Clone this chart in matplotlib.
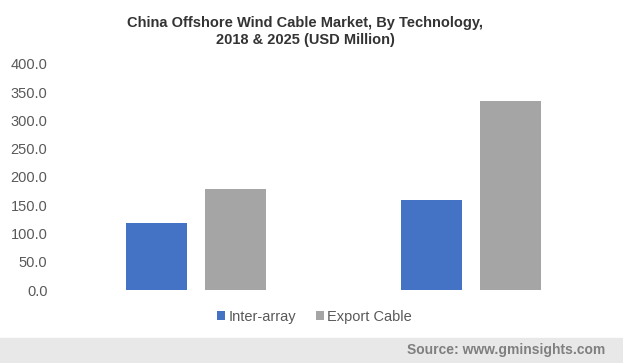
import matplotlib.pyplot as plt
import numpy as np

plt.rcParams['font.family'] = ['Liberation Sans', 'DejaVu Sans']

years = ['2018', '2025']
inter_array = [119, 159]
export_cable = [179, 335]
y_ticks = [0, 50, 100, 150, 200, 250, 300, 350, 400]

fig = plt.figure(figsize=(6.23, 3.63), dpi=100)
ax = fig.add_axes([0.094, 0.201, 0.883, 0.623])

x = np.arange(len(years))
w = 0.222
ax.bar(x - 0.143, inter_array, w, color='#4472c4', label='Inter-array')
ax.bar(x + 0.143, export_cable, w, color='#a5a5a5', label='Export Cable')

ax.set_xlim(-0.5, 1.5)
ax.set_ylim(0, 400)
ax.set_yticks(y_ticks)
ax.set_yticklabels([f'{v:.1f}' for v in y_ticks])
ax.set_xticks([])
for s in ax.spines.values():
    s.set_visible(False)
ax.tick_params(axis='y', length=0, pad=8, labelsize=10.5, labelcolor='#595959')

fig.text(0.49, 0.913, 'China Offshore Wind Cable Market, By Technology,\n2018 & 2025 (USD Million)',
         ha='center', va='center', fontsize=10.5, fontweight='bold', color='#333333',
         linespacing=1.25)

leg = fig.legend(loc='center', bbox_to_anchor=(0.505, 0.127), ncol=2, frameon=False,
                 fontsize=10.5, handlelength=0.55, handleheight=0.55, handletextpad=0.2,
                 columnspacing=1.4)
for t in leg.get_texts():
    t.set_color('#595959')

fig.patches.append(plt.Rectangle((0, 0), 1, 0.069, transform=fig.transFigure,
                                 color='#e8e8e8', zorder=0))
fig.text(0.972, 0.035, 'Source: www.gminsights.com', ha='right', va='center',
         fontsize=10, fontweight='bold', color='#7f7f7f')

fig.savefig('out.png', dpi=100)
